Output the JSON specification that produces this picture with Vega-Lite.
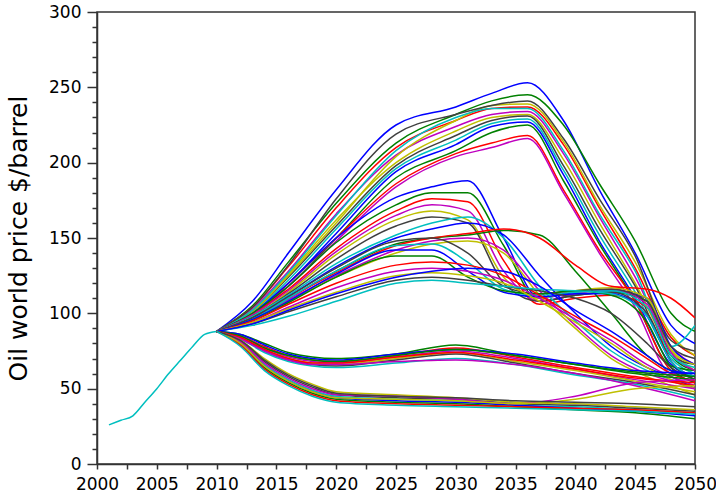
{
"$schema": "https://vega.github.io/schema/vega-lite/v6.json",
"width": 598, "height": 452,
"autosize": {"type": "none"},
"padding": {"left": 97, "top": 12, "right": 21, "bottom": 34},
"background": "white",
"config": {
 "view": {"stroke": "#333333", "strokeWidth": 1.5},
 "axis": {"labelFont": "DejaVu Sans", "labelFontSize": 17, "labelColor": "#000000", "domainColor": "#333333", "domainWidth": 1.5, "tickColor": "#333333", "tickWidth": 1.5, "grid": false}
},
"data": {"values": [
{"s":0,"t":2001,"p":26},{"s":0,"t":2002,"p":29},{"s":0,"t":2003,"p":32},{"s":0,"t":2004,"p":41},{"s":0,"t":2005,"p":50},{"s":0,"t":2006,"p":60},{"s":0,"t":2007,"p":69},{"s":0,"t":2008,"p":78},{"s":0,"t":2009,"p":86},{"s":0,"t":2010,"p":88},
{"s":1,"t":2010,"p":88},{"s":1,"t":2013,"p":108},{"s":1,"t":2016,"p":140},{"s":1,"t":2020,"p":182},{"s":1,"t":2025,"p":225},{"s":1,"t":2030,"p":237},{"s":1,"t":2033,"p":246},{"s":1,"t":2036,"p":253},{"s":1,"t":2039,"p":228},{"s":1,"t":2042,"p":182},{"s":1,"t":2045,"p":140},{"s":1,"t":2048,"p":92},{"s":1,"t":2050,"p":80},
{"s":2,"t":2010,"p":88},{"s":2,"t":2013,"p":105},{"s":2,"t":2016,"p":134},{"s":2,"t":2020,"p":173},{"s":2,"t":2025,"p":213},{"s":2,"t":2030,"p":232},{"s":2,"t":2033,"p":241},{"s":2,"t":2036,"p":245},{"s":2,"t":2039,"p":225},{"s":2,"t":2042,"p":186},{"s":2,"t":2045,"p":148},{"s":2,"t":2048,"p":100},{"s":2,"t":2050,"p":88},
{"s":3,"t":2010,"p":88},{"s":3,"t":2013,"p":104},{"s":3,"t":2016,"p":131},{"s":3,"t":2020,"p":170},{"s":3,"t":2025,"p":210},{"s":3,"t":2030,"p":228},{"s":3,"t":2033,"p":236},{"s":3,"t":2036,"p":237},{"s":3,"t":2039,"p":212},{"s":3,"t":2042,"p":170},{"s":3,"t":2045,"p":130},{"s":3,"t":2048,"p":84},{"s":3,"t":2050,"p":72},
{"s":4,"t":2010,"p":88},{"s":4,"t":2013,"p":103},{"s":4,"t":2016,"p":128},{"s":4,"t":2020,"p":166},{"s":4,"t":2025,"p":205},{"s":4,"t":2030,"p":224},{"s":4,"t":2033,"p":232},{"s":4,"t":2036,"p":234},{"s":4,"t":2039,"p":206},{"s":4,"t":2042,"p":164},{"s":4,"t":2045,"p":124},{"s":4,"t":2048,"p":78},{"s":4,"t":2050,"p":66},
{"s":5,"t":2010,"p":88},{"s":5,"t":2013,"p":102},{"s":5,"t":2016,"p":126},{"s":5,"t":2020,"p":162},{"s":5,"t":2025,"p":200},{"s":5,"t":2030,"p":221},{"s":5,"t":2033,"p":230},{"s":5,"t":2036,"p":232},{"s":5,"t":2039,"p":202},{"s":5,"t":2042,"p":160},{"s":5,"t":2045,"p":120},{"s":5,"t":2048,"p":75},{"s":5,"t":2050,"p":62},
{"s":6,"t":2010,"p":88},{"s":6,"t":2013,"p":101},{"s":6,"t":2016,"p":124},{"s":6,"t":2020,"p":158},{"s":6,"t":2025,"p":198},{"s":6,"t":2030,"p":218},{"s":6,"t":2033,"p":228},{"s":6,"t":2036,"p":231},{"s":6,"t":2039,"p":198},{"s":6,"t":2042,"p":156},{"s":6,"t":2045,"p":118},{"s":6,"t":2048,"p":72},{"s":6,"t":2050,"p":66},
{"s":7,"t":2010,"p":88},{"s":7,"t":2013,"p":100},{"s":7,"t":2016,"p":122},{"s":7,"t":2020,"p":156},{"s":7,"t":2025,"p":196},{"s":7,"t":2030,"p":215},{"s":7,"t":2033,"p":226},{"s":7,"t":2036,"p":229},{"s":7,"t":2039,"p":195},{"s":7,"t":2042,"p":152},{"s":7,"t":2045,"p":114},{"s":7,"t":2048,"p":70},{"s":7,"t":2050,"p":60},
{"s":8,"t":2010,"p":88},{"s":8,"t":2013,"p":100},{"s":8,"t":2016,"p":120},{"s":8,"t":2020,"p":153},{"s":8,"t":2025,"p":194},{"s":8,"t":2030,"p":212},{"s":8,"t":2033,"p":224},{"s":8,"t":2036,"p":227},{"s":8,"t":2039,"p":192},{"s":8,"t":2042,"p":148},{"s":8,"t":2045,"p":110},{"s":8,"t":2048,"p":66},{"s":8,"t":2050,"p":58},
{"s":9,"t":2010,"p":88},{"s":9,"t":2013,"p":99},{"s":9,"t":2016,"p":118},{"s":9,"t":2020,"p":150},{"s":9,"t":2025,"p":190},{"s":9,"t":2030,"p":208},{"s":9,"t":2033,"p":220},{"s":9,"t":2036,"p":225},{"s":9,"t":2039,"p":188},{"s":9,"t":2042,"p":146},{"s":9,"t":2045,"p":108},{"s":9,"t":2048,"p":65},{"s":9,"t":2050,"p":62},
{"s":10,"t":2010,"p":88},{"s":10,"t":2013,"p":98},{"s":10,"t":2016,"p":120},{"s":10,"t":2020,"p":150},{"s":10,"t":2025,"p":186},{"s":10,"t":2030,"p":206},{"s":10,"t":2033,"p":213},{"s":10,"t":2036,"p":218},{"s":10,"t":2039,"p":182},{"s":10,"t":2042,"p":142},{"s":10,"t":2045,"p":108},{"s":10,"t":2048,"p":62},{"s":10,"t":2050,"p":55},
{"s":11,"t":2010,"p":88},{"s":11,"t":2013,"p":98},{"s":11,"t":2016,"p":118},{"s":11,"t":2020,"p":148},{"s":11,"t":2025,"p":184},{"s":11,"t":2030,"p":204},{"s":11,"t":2033,"p":210},{"s":11,"t":2036,"p":216},{"s":11,"t":2039,"p":180},{"s":11,"t":2042,"p":140},{"s":11,"t":2045,"p":104},{"s":11,"t":2048,"p":60},{"s":11,"t":2050,"p":58},
{"s":12,"t":2010,"p":88},{"s":12,"t":2013,"p":101},{"s":12,"t":2016,"p":125},{"s":12,"t":2020,"p":160},{"s":12,"t":2025,"p":204},{"s":12,"t":2030,"p":228},{"s":12,"t":2033,"p":238},{"s":12,"t":2036,"p":239},{"s":12,"t":2039,"p":214},{"s":12,"t":2042,"p":172},{"s":12,"t":2045,"p":134},{"s":12,"t":2048,"p":86},{"s":12,"t":2050,"p":72},
{"s":13,"t":2010,"p":88},{"s":13,"t":2013,"p":104},{"s":13,"t":2016,"p":132},{"s":13,"t":2020,"p":176},{"s":13,"t":2025,"p":219},{"s":13,"t":2030,"p":232},{"s":13,"t":2033,"p":238},{"s":13,"t":2036,"p":241},{"s":13,"t":2039,"p":216},{"s":13,"t":2042,"p":176},{"s":13,"t":2045,"p":138},{"s":13,"t":2048,"p":82},{"s":13,"t":2050,"p":75},
{"s":14,"t":2010,"p":88},{"s":14,"t":2013,"p":102},{"s":14,"t":2016,"p":127},{"s":14,"t":2020,"p":165},{"s":14,"t":2025,"p":208},{"s":14,"t":2030,"p":230},{"s":14,"t":2033,"p":236},{"s":14,"t":2036,"p":236},{"s":14,"t":2039,"p":208},{"s":14,"t":2042,"p":166},{"s":14,"t":2045,"p":128},{"s":14,"t":2048,"p":78},{"s":14,"t":2050,"p":92},
{"s":15,"t":2010,"p":88},{"s":15,"t":2013,"p":100},{"s":15,"t":2016,"p":120},{"s":15,"t":2020,"p":150},{"s":15,"t":2025,"p":177},{"s":15,"t":2028,"p":184},{"s":15,"t":2031,"p":188},{"s":15,"t":2034,"p":150},{"s":15,"t":2037,"p":110},{"s":15,"t":2040,"p":114},{"s":15,"t":2043,"p":115},{"s":15,"t":2046,"p":110},{"s":15,"t":2048,"p":78},{"s":15,"t":2050,"p":66},
{"s":16,"t":2010,"p":88},{"s":16,"t":2013,"p":100},{"s":16,"t":2016,"p":118},{"s":16,"t":2020,"p":147},{"s":16,"t":2025,"p":172},{"s":16,"t":2028,"p":180},{"s":16,"t":2031,"p":180},{"s":16,"t":2034,"p":145},{"s":16,"t":2037,"p":108},{"s":16,"t":2040,"p":112},{"s":16,"t":2043,"p":114},{"s":16,"t":2046,"p":108},{"s":16,"t":2048,"p":72},{"s":16,"t":2050,"p":62},
{"s":17,"t":2010,"p":88},{"s":17,"t":2013,"p":99},{"s":17,"t":2016,"p":116},{"s":17,"t":2020,"p":143},{"s":17,"t":2025,"p":168},{"s":17,"t":2028,"p":176},{"s":17,"t":2031,"p":174},{"s":17,"t":2034,"p":135},{"s":17,"t":2037,"p":106},{"s":17,"t":2040,"p":110},{"s":17,"t":2043,"p":112},{"s":17,"t":2046,"p":104},{"s":17,"t":2048,"p":68},{"s":17,"t":2050,"p":58},
{"s":18,"t":2010,"p":88},{"s":18,"t":2013,"p":99},{"s":18,"t":2016,"p":115},{"s":18,"t":2020,"p":141},{"s":18,"t":2025,"p":165},{"s":18,"t":2028,"p":172},{"s":18,"t":2031,"p":168},{"s":18,"t":2034,"p":128},{"s":18,"t":2037,"p":108},{"s":18,"t":2040,"p":113},{"s":18,"t":2043,"p":116},{"s":18,"t":2046,"p":106},{"s":18,"t":2048,"p":74},{"s":18,"t":2050,"p":62},
{"s":19,"t":2010,"p":88},{"s":19,"t":2013,"p":98},{"s":19,"t":2016,"p":114},{"s":19,"t":2020,"p":139},{"s":19,"t":2025,"p":162},{"s":19,"t":2028,"p":168},{"s":19,"t":2031,"p":162},{"s":19,"t":2034,"p":124},{"s":19,"t":2037,"p":110},{"s":19,"t":2040,"p":115},{"s":19,"t":2043,"p":117},{"s":19,"t":2046,"p":110},{"s":19,"t":2048,"p":76},{"s":19,"t":2050,"p":66},
{"s":20,"t":2010,"p":88},{"s":20,"t":2013,"p":98},{"s":20,"t":2016,"p":113},{"s":20,"t":2020,"p":136},{"s":20,"t":2025,"p":158},{"s":20,"t":2028,"p":164},{"s":20,"t":2031,"p":160},{"s":20,"t":2034,"p":120},{"s":20,"t":2037,"p":108},{"s":20,"t":2040,"p":112},{"s":20,"t":2043,"p":114},{"s":20,"t":2046,"p":100},{"s":20,"t":2048,"p":68},{"s":20,"t":2050,"p":56},
{"s":21,"t":2010,"p":88},{"s":21,"t":2013,"p":98},{"s":21,"t":2016,"p":112},{"s":21,"t":2020,"p":133},{"s":21,"t":2025,"p":152},{"s":21,"t":2028,"p":160},{"s":21,"t":2031,"p":164},{"s":21,"t":2034,"p":150},{"s":21,"t":2037,"p":118},{"s":21,"t":2040,"p":95},{"s":21,"t":2043,"p":75},{"s":21,"t":2046,"p":62},{"s":21,"t":2048,"p":56},{"s":21,"t":2050,"p":52},
{"s":22,"t":2010,"p":88},{"s":22,"t":2013,"p":97},{"s":22,"t":2016,"p":111},{"s":22,"t":2020,"p":131},{"s":22,"t":2025,"p":150},{"s":22,"t":2028,"p":156},{"s":22,"t":2031,"p":160},{"s":22,"t":2034,"p":152},{"s":22,"t":2037,"p":125},{"s":22,"t":2040,"p":100},{"s":22,"t":2043,"p":78},{"s":22,"t":2046,"p":64},{"s":22,"t":2048,"p":58},{"s":22,"t":2050,"p":50},
{"s":23,"t":2010,"p":88},{"s":23,"t":2013,"p":97},{"s":23,"t":2016,"p":110},{"s":23,"t":2020,"p":128},{"s":23,"t":2025,"p":146},{"s":23,"t":2028,"p":150},{"s":23,"t":2031,"p":152},{"s":23,"t":2034,"p":155},{"s":23,"t":2037,"p":152},{"s":23,"t":2040,"p":128},{"s":23,"t":2043,"p":100},{"s":23,"t":2046,"p":72},{"s":23,"t":2048,"p":62},{"s":23,"t":2050,"p":58},
{"s":24,"t":2010,"p":88},{"s":24,"t":2013,"p":97},{"s":24,"t":2016,"p":110},{"s":24,"t":2020,"p":127},{"s":24,"t":2025,"p":145},{"s":24,"t":2028,"p":150},{"s":24,"t":2031,"p":153},{"s":24,"t":2034,"p":156},{"s":24,"t":2037,"p":150},{"s":24,"t":2040,"p":132},{"s":24,"t":2043,"p":118},{"s":24,"t":2046,"p":116},{"s":24,"t":2048,"p":110},{"s":24,"t":2050,"p":97},
{"s":25,"t":2010,"p":88},{"s":25,"t":2013,"p":96},{"s":25,"t":2016,"p":109},{"s":25,"t":2020,"p":125},{"s":25,"t":2025,"p":142},{"s":25,"t":2028,"p":148},{"s":25,"t":2031,"p":150},{"s":25,"t":2034,"p":142},{"s":25,"t":2037,"p":115},{"s":25,"t":2040,"p":92},{"s":25,"t":2043,"p":72},{"s":25,"t":2046,"p":60},{"s":25,"t":2048,"p":55},{"s":25,"t":2050,"p":50},
{"s":26,"t":2010,"p":88},{"s":26,"t":2013,"p":96},{"s":26,"t":2016,"p":108},{"s":26,"t":2020,"p":124},{"s":26,"t":2025,"p":140},{"s":26,"t":2028,"p":146},{"s":26,"t":2031,"p":148},{"s":26,"t":2034,"p":140},{"s":26,"t":2037,"p":112},{"s":26,"t":2040,"p":90},{"s":26,"t":2043,"p":70},{"s":26,"t":2046,"p":58},{"s":26,"t":2048,"p":52},{"s":26,"t":2050,"p":46},
{"s":27,"t":2010,"p":88},{"s":27,"t":2013,"p":97},{"s":27,"t":2016,"p":111},{"s":27,"t":2020,"p":130},{"s":27,"t":2025,"p":148},{"s":27,"t":2028,"p":150},{"s":27,"t":2031,"p":140},{"s":27,"t":2034,"p":118},{"s":27,"t":2037,"p":113},{"s":27,"t":2040,"p":115},{"s":27,"t":2043,"p":116},{"s":27,"t":2046,"p":108},{"s":27,"t":2048,"p":78},{"s":27,"t":2050,"p":70},
{"s":28,"t":2010,"p":88},{"s":28,"t":2013,"p":96},{"s":28,"t":2016,"p":110},{"s":28,"t":2020,"p":128},{"s":28,"t":2025,"p":145},{"s":28,"t":2028,"p":146},{"s":28,"t":2031,"p":134},{"s":28,"t":2034,"p":116},{"s":28,"t":2037,"p":112},{"s":28,"t":2040,"p":114},{"s":28,"t":2043,"p":115},{"s":28,"t":2046,"p":104},{"s":28,"t":2048,"p":72},{"s":28,"t":2050,"p":64},
{"s":29,"t":2010,"p":88},{"s":29,"t":2013,"p":96},{"s":29,"t":2016,"p":108},{"s":29,"t":2020,"p":126},{"s":29,"t":2025,"p":142},{"s":29,"t":2028,"p":142},{"s":29,"t":2031,"p":128},{"s":29,"t":2034,"p":114},{"s":29,"t":2037,"p":111},{"s":29,"t":2040,"p":113},{"s":29,"t":2043,"p":113},{"s":29,"t":2046,"p":98},{"s":29,"t":2048,"p":68},{"s":29,"t":2050,"p":58},
{"s":30,"t":2010,"p":88},{"s":30,"t":2013,"p":95},{"s":30,"t":2016,"p":107},{"s":30,"t":2020,"p":124},{"s":30,"t":2025,"p":138},{"s":30,"t":2028,"p":138},{"s":30,"t":2031,"p":124},{"s":30,"t":2034,"p":115},{"s":30,"t":2037,"p":113},{"s":30,"t":2040,"p":115},{"s":30,"t":2043,"p":112},{"s":30,"t":2046,"p":94},{"s":30,"t":2048,"p":64},{"s":30,"t":2050,"p":54},
{"s":31,"t":2010,"p":88},{"s":31,"t":2013,"p":95},{"s":31,"t":2016,"p":106},{"s":31,"t":2020,"p":120},{"s":31,"t":2025,"p":132},{"s":31,"t":2028,"p":134},{"s":31,"t":2031,"p":132},{"s":31,"t":2034,"p":125},{"s":31,"t":2037,"p":112},{"s":31,"t":2040,"p":98},{"s":31,"t":2043,"p":85},{"s":31,"t":2046,"p":70},{"s":31,"t":2048,"p":60},{"s":31,"t":2050,"p":55},
{"s":32,"t":2010,"p":88},{"s":32,"t":2013,"p":94},{"s":32,"t":2016,"p":104},{"s":32,"t":2020,"p":117},{"s":32,"t":2025,"p":128},{"s":32,"t":2028,"p":130},{"s":32,"t":2031,"p":128},{"s":32,"t":2034,"p":122},{"s":32,"t":2037,"p":110},{"s":32,"t":2040,"p":96},{"s":32,"t":2043,"p":82},{"s":32,"t":2046,"p":66},{"s":32,"t":2048,"p":58},{"s":32,"t":2050,"p":52},
{"s":33,"t":2010,"p":88},{"s":33,"t":2013,"p":94},{"s":33,"t":2016,"p":103},{"s":33,"t":2020,"p":114},{"s":33,"t":2025,"p":125},{"s":33,"t":2028,"p":127},{"s":33,"t":2031,"p":125},{"s":33,"t":2034,"p":120},{"s":33,"t":2037,"p":108},{"s":33,"t":2040,"p":94},{"s":33,"t":2043,"p":80},{"s":33,"t":2046,"p":64},{"s":33,"t":2048,"p":56},{"s":33,"t":2050,"p":50},
{"s":34,"t":2010,"p":88},{"s":34,"t":2013,"p":93},{"s":34,"t":2016,"p":101},{"s":34,"t":2020,"p":111},{"s":34,"t":2025,"p":122},{"s":34,"t":2028,"p":124},{"s":34,"t":2031,"p":122},{"s":34,"t":2034,"p":118},{"s":34,"t":2037,"p":115},{"s":34,"t":2040,"p":110},{"s":34,"t":2043,"p":100},{"s":34,"t":2046,"p":80},{"s":34,"t":2048,"p":64},{"s":34,"t":2050,"p":56},
{"s":35,"t":2010,"p":88},{"s":35,"t":2013,"p":92},{"s":35,"t":2016,"p":98},{"s":35,"t":2020,"p":108},{"s":35,"t":2025,"p":120},{"s":35,"t":2028,"p":122},{"s":35,"t":2031,"p":120},{"s":35,"t":2034,"p":118},{"s":35,"t":2037,"p":116},{"s":35,"t":2040,"p":115},{"s":35,"t":2043,"p":113},{"s":35,"t":2046,"p":98},{"s":35,"t":2048,"p":68},{"s":35,"t":2050,"p":58},
{"s":36,"t":2010,"p":88},{"s":36,"t":2013,"p":93},{"s":36,"t":2016,"p":102},{"s":36,"t":2020,"p":113},{"s":36,"t":2025,"p":124},{"s":36,"t":2028,"p":128},{"s":36,"t":2031,"p":130},{"s":36,"t":2034,"p":128},{"s":36,"t":2037,"p":118},{"s":36,"t":2040,"p":102},{"s":36,"t":2043,"p":88},{"s":36,"t":2046,"p":72},{"s":36,"t":2048,"p":62},{"s":36,"t":2050,"p":60},
{"s":37,"t":2010,"p":88},{"s":37,"t":2012,"p":86},{"s":37,"t":2014,"p":80},{"s":37,"t":2016,"p":74},{"s":37,"t":2018,"p":71},{"s":37,"t":2020,"p":70},{"s":37,"t":2025,"p":73},{"s":37,"t":2030,"p":79},{"s":37,"t":2035,"p":72},{"s":37,"t":2040,"p":66},{"s":37,"t":2045,"p":60},{"s":37,"t":2050,"p":56},
{"s":38,"t":2010,"p":88},{"s":38,"t":2012,"p":85},{"s":38,"t":2014,"p":78},{"s":38,"t":2016,"p":72},{"s":38,"t":2018,"p":69},{"s":38,"t":2020,"p":68},{"s":38,"t":2025,"p":72},{"s":38,"t":2030,"p":77},{"s":38,"t":2035,"p":71},{"s":38,"t":2040,"p":64},{"s":38,"t":2045,"p":58},{"s":38,"t":2050,"p":52},
{"s":39,"t":2010,"p":88},{"s":39,"t":2012,"p":85},{"s":39,"t":2014,"p":77},{"s":39,"t":2016,"p":71},{"s":39,"t":2018,"p":68},{"s":39,"t":2020,"p":67},{"s":39,"t":2025,"p":71},{"s":39,"t":2030,"p":75},{"s":39,"t":2035,"p":70},{"s":39,"t":2040,"p":63},{"s":39,"t":2045,"p":56},{"s":39,"t":2050,"p":50},
{"s":40,"t":2010,"p":88},{"s":40,"t":2012,"p":84},{"s":40,"t":2014,"p":76},{"s":40,"t":2016,"p":70},{"s":40,"t":2018,"p":67},{"s":40,"t":2020,"p":66},{"s":40,"t":2025,"p":70},{"s":40,"t":2030,"p":74},{"s":40,"t":2035,"p":68},{"s":40,"t":2040,"p":62},{"s":40,"t":2045,"p":55},{"s":40,"t":2050,"p":48},
{"s":41,"t":2010,"p":88},{"s":41,"t":2012,"p":84},{"s":41,"t":2014,"p":75},{"s":41,"t":2016,"p":69},{"s":41,"t":2018,"p":66},{"s":41,"t":2020,"p":65},{"s":41,"t":2025,"p":69},{"s":41,"t":2030,"p":73},{"s":41,"t":2035,"p":67},{"s":41,"t":2040,"p":60},{"s":41,"t":2045,"p":54},{"s":41,"t":2050,"p":46},
{"s":42,"t":2010,"p":88},{"s":42,"t":2012,"p":83},{"s":42,"t":2014,"p":74},{"s":42,"t":2016,"p":68},{"s":42,"t":2018,"p":65},{"s":42,"t":2020,"p":64},{"s":42,"t":2025,"p":67},{"s":42,"t":2030,"p":70},{"s":42,"t":2035,"p":66},{"s":42,"t":2040,"p":59},{"s":42,"t":2045,"p":53},{"s":42,"t":2050,"p":44},
{"s":43,"t":2010,"p":88},{"s":43,"t":2012,"p":86},{"s":43,"t":2014,"p":79},{"s":43,"t":2016,"p":73},{"s":43,"t":2018,"p":70},{"s":43,"t":2020,"p":69},{"s":43,"t":2025,"p":73},{"s":43,"t":2030,"p":76},{"s":43,"t":2035,"p":73},{"s":43,"t":2040,"p":67},{"s":43,"t":2045,"p":62},{"s":43,"t":2050,"p":60},
{"s":44,"t":2010,"p":88},{"s":44,"t":2012,"p":85},{"s":44,"t":2014,"p":77},{"s":44,"t":2016,"p":72},{"s":44,"t":2018,"p":69},{"s":44,"t":2020,"p":68},{"s":44,"t":2025,"p":72},{"s":44,"t":2030,"p":76},{"s":44,"t":2035,"p":72},{"s":44,"t":2040,"p":66},{"s":44,"t":2045,"p":61},{"s":44,"t":2050,"p":58},
{"s":45,"t":2010,"p":88},{"s":45,"t":2012,"p":84},{"s":45,"t":2014,"p":76},{"s":45,"t":2016,"p":70},{"s":45,"t":2018,"p":67},{"s":45,"t":2020,"p":67},{"s":45,"t":2025,"p":71},{"s":45,"t":2030,"p":74},{"s":45,"t":2035,"p":69},{"s":45,"t":2040,"p":63},{"s":45,"t":2045,"p":57},{"s":45,"t":2050,"p":54},
{"s":46,"t":2010,"p":88},{"s":46,"t":2012,"p":83},{"s":46,"t":2014,"p":75},{"s":46,"t":2016,"p":69},{"s":46,"t":2018,"p":66},{"s":46,"t":2020,"p":66},{"s":46,"t":2025,"p":68},{"s":46,"t":2030,"p":69},{"s":46,"t":2035,"p":66},{"s":46,"t":2040,"p":60},{"s":46,"t":2045,"p":52},{"s":46,"t":2050,"p":42},
{"s":47,"t":2010,"p":88},{"s":47,"t":2012,"p":82},{"s":47,"t":2014,"p":70},{"s":47,"t":2016,"p":60},{"s":47,"t":2018,"p":53},{"s":47,"t":2020,"p":48},{"s":47,"t":2025,"p":46},{"s":47,"t":2030,"p":44},{"s":47,"t":2035,"p":41},{"s":47,"t":2040,"p":40},{"s":47,"t":2045,"p":38},{"s":47,"t":2050,"p":36},
{"s":48,"t":2010,"p":88},{"s":48,"t":2012,"p":81},{"s":48,"t":2014,"p":68},{"s":48,"t":2016,"p":58},{"s":48,"t":2018,"p":51},{"s":48,"t":2020,"p":46},{"s":48,"t":2025,"p":44},{"s":48,"t":2030,"p":43},{"s":48,"t":2035,"p":40},{"s":48,"t":2040,"p":39},{"s":48,"t":2045,"p":37},{"s":48,"t":2050,"p":35},
{"s":49,"t":2010,"p":88},{"s":49,"t":2012,"p":80},{"s":49,"t":2014,"p":66},{"s":49,"t":2016,"p":56},{"s":49,"t":2018,"p":49},{"s":49,"t":2020,"p":45},{"s":49,"t":2025,"p":43},{"s":49,"t":2030,"p":42},{"s":49,"t":2035,"p":39},{"s":49,"t":2040,"p":38},{"s":49,"t":2045,"p":36},{"s":49,"t":2050,"p":34},
{"s":50,"t":2010,"p":88},{"s":50,"t":2012,"p":80},{"s":50,"t":2014,"p":65},{"s":50,"t":2016,"p":55},{"s":50,"t":2018,"p":48},{"s":50,"t":2020,"p":44},{"s":50,"t":2025,"p":42},{"s":50,"t":2030,"p":41},{"s":50,"t":2035,"p":39},{"s":50,"t":2040,"p":37},{"s":50,"t":2045,"p":35},{"s":50,"t":2050,"p":32},
{"s":51,"t":2010,"p":88},{"s":51,"t":2012,"p":79},{"s":51,"t":2014,"p":64},{"s":51,"t":2016,"p":54},{"s":51,"t":2018,"p":47},{"s":51,"t":2020,"p":43},{"s":51,"t":2025,"p":41},{"s":51,"t":2030,"p":40},{"s":51,"t":2035,"p":38},{"s":51,"t":2040,"p":36},{"s":51,"t":2045,"p":34},{"s":51,"t":2050,"p":30},
{"s":52,"t":2010,"p":88},{"s":52,"t":2012,"p":79},{"s":52,"t":2014,"p":63},{"s":52,"t":2016,"p":53},{"s":52,"t":2018,"p":46},{"s":52,"t":2020,"p":42},{"s":52,"t":2025,"p":40},{"s":52,"t":2030,"p":39},{"s":52,"t":2035,"p":38},{"s":52,"t":2040,"p":37},{"s":52,"t":2045,"p":36},{"s":52,"t":2050,"p":34},
{"s":53,"t":2010,"p":88},{"s":53,"t":2012,"p":81},{"s":53,"t":2014,"p":67},{"s":53,"t":2016,"p":57},{"s":53,"t":2018,"p":50},{"s":53,"t":2020,"p":46},{"s":53,"t":2025,"p":45},{"s":53,"t":2030,"p":43},{"s":53,"t":2035,"p":40},{"s":53,"t":2040,"p":45},{"s":53,"t":2045,"p":54},{"s":53,"t":2050,"p":56},
{"s":54,"t":2010,"p":88},{"s":54,"t":2012,"p":80},{"s":54,"t":2014,"p":65},{"s":54,"t":2016,"p":55},{"s":54,"t":2018,"p":48},{"s":54,"t":2020,"p":44},{"s":54,"t":2025,"p":43},{"s":54,"t":2030,"p":42},{"s":54,"t":2035,"p":40},{"s":54,"t":2040,"p":43},{"s":54,"t":2045,"p":50},{"s":54,"t":2050,"p":52},
{"s":55,"t":2010,"p":88},{"s":55,"t":2012,"p":82},{"s":55,"t":2014,"p":69},{"s":55,"t":2016,"p":59},{"s":55,"t":2018,"p":52},{"s":55,"t":2020,"p":47},{"s":55,"t":2025,"p":45},{"s":55,"t":2030,"p":44},{"s":55,"t":2035,"p":42},{"s":55,"t":2040,"p":41},{"s":55,"t":2045,"p":40},{"s":55,"t":2050,"p":38},
{"s":56,"t":2010,"p":88},{"s":56,"t":2012,"p":78},{"s":56,"t":2014,"p":62},{"s":56,"t":2016,"p":52},{"s":56,"t":2018,"p":45},{"s":56,"t":2020,"p":41},{"s":56,"t":2025,"p":39},{"s":56,"t":2030,"p":38},{"s":56,"t":2035,"p":37},{"s":56,"t":2040,"p":36},{"s":56,"t":2045,"p":35},{"s":56,"t":2050,"p":33}
]},
"mark": {"type": "line", "interpolate": "monotone", "strokeWidth": 1.5, "clip": true},
"encoding": {
 "x": {"field": "t", "type": "quantitative",
  "scale": {"domain": [2000, 2050], "nice": false, "zero": false},
  "axis": {"title": null, "format": "d",
   "values": [2000,2002.5,2005,2007.5,2010,2012.5,2015,2017.5,2020,2022.5,2025,2027.5,2030,2032.5,2035,2037.5,2040,2042.5,2045,2047.5,2050],
   "labelExpr": "datum.value % 5 === 0 ? datum.label : ''",
   "tickSize": 5, "labelPadding": 7, "labelFlush": false, "labelOverlap": false}},
 "y": {"field": "p", "type": "quantitative",
  "scale": {"domain": [0, 300], "nice": false, "zero": true},
  "axis": {"title": "Oil world price $/barrel", "titleFont": "DejaVu Sans", "titleFontSize": 25, "titleFontWeight": "normal", "titleColor": "#000000", "titlePadding": 17,
   "values": [0,10,20,30,40,50,60,70,80,90,100,110,120,130,140,150,160,170,180,190,200,210,220,230,240,250,260,270,280,290,300],
   "labelExpr": "datum.value % 50 === 0 ? datum.label : ''",
   "tickSize": {"condition": {"test": "datum.value % 50 === 0", "value": 10}, "value": 5},
   "labelPadding": 6, "labelOverlap": false}},
 "color": {"field": "s", "type": "nominal",
  "scale": {"range": ["#00bfbf","#0000ff","#008000","#ff0000","#bf00bf","#bfbf00","#404040"]},
  "legend": null}
}
}
